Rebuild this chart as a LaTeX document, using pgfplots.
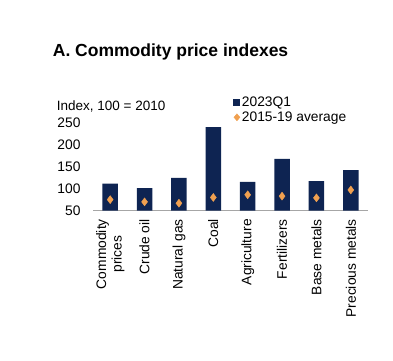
\documentclass[border=0pt]{standalone}
\usepackage{pgfplots}
\pgfplotsset{compat=1.18}
\usepackage{fontspec}
\setmainfont{Liberation Sans}
\definecolor{navy}{HTML}{0E2452}
\definecolor{orng}{HTML}{F0A050}
\begin{document}
\begin{tikzpicture}[x=1pt,y=1pt]
\useasboundingbox (0,0) rectangle (393,360);
\node[anchor=base west, inner sep=0pt, font=\fontsize{17.5}{20}\selectfont\bfseries] at (52.7,304) {A. Commodity price indexes};
\node[anchor=base west, inner sep=0pt, font=\fontsize{13.5}{16}\selectfont] at (56.7,250) {Index, 100 = 2010};
\begin{axis}[
  at={(93pt,149.3pt)}, anchor=south west,
  scale only axis, width=275pt, height=88.4pt,
  xmin=-0.5, xmax=7.5, ymin=50, ymax=250,
  ytick={50,100,150,200,250},
  xtick={0,1,2,3,4,5,6,7},
  xticklabels={{Commodity\\prices},Crude oil,Natural gas,Coal,Agriculture,Fertilizers,Base metals,Precious metals},
  axis x line*=bottom, axis y line*=left,
  y axis line style={draw=none},
  x axis line style={draw=gray!70, line width=0.8pt, -},
  major tick length=0pt,
  /pgf/number format/assume math mode=true,
  tick label style={font=\fontsize{13.8}{15.5}\selectfont},
  yticklabel style={anchor=east, xshift=-9pt},
  xticklabel style={yshift=-5pt, rotate=90, anchor=east, align=center},
  clip=false,
  legend style={at={(axis description cs:0.51,1.31)}, anchor=north west, draw=none, fill=none,
    font=\fontsize{13.8}{15}\selectfont, inner sep=0pt, row sep=1pt,
    nodes={inner sep=1.5pt}},
  legend cell align=left,
]
\addplot[ybar, bar width=15.5pt, fill=navy, draw=none,
  legend image code/.code={\fill[navy] (0pt,-3.5pt) rectangle (7pt,3.5pt);}]
  coordinates {(0,111) (1,101) (2,124) (3,239) (4,115) (5,167) (6,117) (7,142)};
\addlegendentry{2023Q1}
\addplot[only marks, mark=diamond*, mark size=4pt, mark options={fill=orng, draw=orng},
  legend image code/.code={\fill[orng] (3.5pt,-3.5pt) -- (6.5pt,0pt) -- (3.5pt,3.5pt) -- (0.5pt,0pt) -- cycle;}]
  coordinates {(0,75) (1,70) (2,67) (3,80) (4,86) (5,83) (6,79) (7,97)};
\addlegendentry{2015-19 average}
\end{axis}
\end{tikzpicture}
\end{document}
